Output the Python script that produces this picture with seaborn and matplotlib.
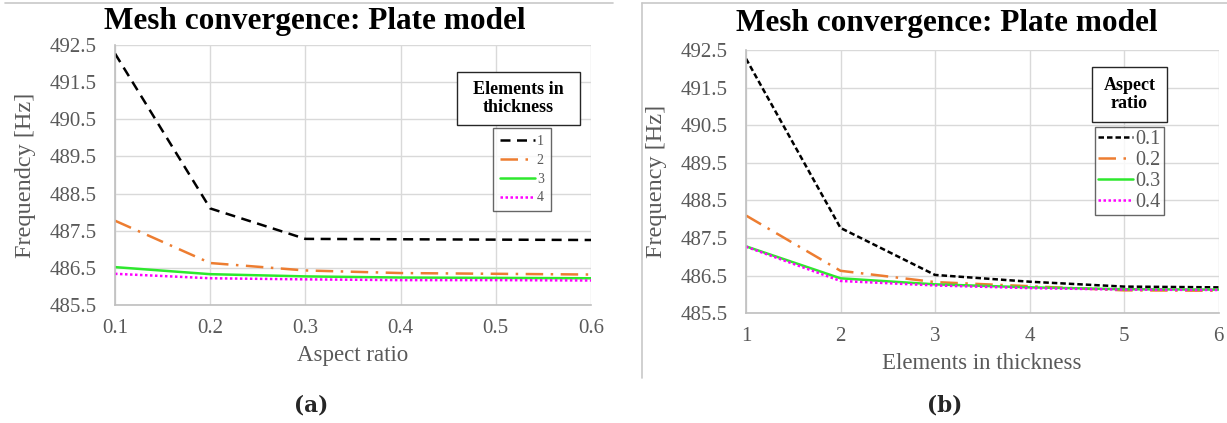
import matplotlib
matplotlib.use("Agg")
import matplotlib.pyplot as plt
from matplotlib.lines import Line2D
from matplotlib.patches import Rectangle
import seaborn as sns

# ---- data ----
aspect_ratios = [0.1, 0.2, 0.3, 0.4, 0.5, 0.6]
elements = [1, 2, 3, 4, 5, 6]

# panel (a): frequency vs aspect ratio, one series per number of elements in thickness
elem_1 = [492.27, 488.10, 487.28, 487.27, 487.26, 487.25]
elem_2 = [487.77, 486.63, 486.43, 486.36, 486.34, 486.32]
elem_3 = [486.52, 486.33, 486.27, 486.24, 486.23, 486.22]
elem_4 = [486.34, 486.22, 486.19, 486.17, 486.17, 486.16]
elem_labels = ["1", "2", "3", "4"]

# panel (b): frequency vs elements in thickness, one series per aspect ratio
ar_01 = [492.27, 487.77, 486.52, 486.34, 486.21, 486.19]
ar_02 = [488.10, 486.63, 486.33, 486.22, 486.11, 486.10]
ar_03 = [487.28, 486.43, 486.27, 486.19, 486.14, 486.13]
ar_04 = [487.27, 486.36, 486.24, 486.17, 486.13, 486.12]
ar_labels = ["0.1", "0.2", "0.3", "0.4"]

y_ticks = [485.5, 486.5, 487.5, 488.5, 489.5, 490.5, 491.5, 492.5]
title = "Mesh convergence: Plate model"

# ---- style ----
sns.set_theme(style="white")
plt.rcParams["font.family"] = ["Liberation Serif", "DejaVu Serif"]
GRAY = "#595959"
colors = ["black", "#ED7D31", "#2EE82E", "#FF00FF"]
styles_a = [(0, (4, 2.6)), (0, (7, 3, 1, 3)), "-", (0, (1, 1))]
styles_b = [(0, (2.2, 1.2)), (0, (7, 3, 1, 3)), "-", (0, (1, 1))]

W, H = 1227, 423
fig = plt.figure(figsize=(W / 100, H / 100), dpi=100)
fig.patch.set_facecolor("white")


def fx(px):
    return px / W


def fy(py):
    return 1 - py / H


ax_a = fig.add_axes([fx(115), fy(305), fx(591) - fx(115), fy(45) - fy(305)])
ax_b = fig.add_axes([fx(746), fy(313.3), fx(1218.5) - fx(746), fy(50) - fy(313.3)])


def style_axes(ax, xticks, xlim, ylabel, xlabel, xfmt, xlabelpad):
    ax.set_xlim(*xlim)
    ax.set_ylim(485.5, 492.5)
    ax.set_xticks(xticks)
    ax.set_xticklabels([xfmt(v) for v in xticks])
    ax.set_yticks(y_ticks)
    ax.set_yticklabels([f"{v:.1f}" for v in y_ticks])
    ax.grid(True, color="#d9d9d9", linewidth=1.0)
    ax.set_axisbelow(True)
    for s in ["top", "right"]:
        ax.spines[s].set_visible(False)
    for s in ["left", "bottom"]:
        ax.spines[s].set_color("#bfbfbf")
        ax.spines[s].set_linewidth(1.2)
    ax.tick_params(axis="both", length=0, labelsize=15, labelcolor=GRAY)
    ax.tick_params(axis="x", pad=10)
    ax.tick_params(axis="y", pad=13)
    ax.set_ylabel(ylabel, fontsize=17.5, color=GRAY, labelpad=10)
    ax.set_xlabel(xlabel, fontsize=16.5, color=GRAY, labelpad=xlabelpad)


# panel (a)
for vals, lab, c, ls in zip([elem_1, elem_2, elem_3, elem_4], elem_labels, colors, styles_a):
    sns.lineplot(x=aspect_ratios, y=vals, ax=ax_a, color=c, linestyle=ls,
                 linewidth=1.8, label=lab)
style_axes(ax_a, aspect_ratios, (0.1, 0.6), "Frequendcy [Hz]", "Aspect ratio",
           lambda v: f"{v:.1f}", 5)

# panel (b)
for vals, lab, c, ls in zip([ar_01, ar_02, ar_03, ar_04], ar_labels, colors, styles_b):
    sns.lineplot(x=elements, y=vals, ax=ax_b, color=c, linestyle=ls,
                 linewidth=1.8, label=lab)
style_axes(ax_b, elements, (1, 6), "Frequency [Hz]", "Elements in thickness",
           lambda v: f"{v:d}", 5)

# legends
h, l = ax_a.get_legend_handles_labels()
leg_a = ax_a.legend(h, l, loc="upper left", bbox_to_anchor=(fx(493), fy(128)),
                    bbox_transform=fig.transFigure, fontsize=10, frameon=True,
                    fancybox=False, edgecolor="#404040", handlelength=2.5,
                    handletextpad=0.15, labelspacing=0.42, borderpad=0.5,
                    borderaxespad=0)
leg_a.get_frame().set_linewidth(1.0)
for t in leg_a.get_texts():
    t.set_color(GRAY)

h, l = ax_b.get_legend_handles_labels()
leg_b = ax_b.legend(h, l, loc="upper left", bbox_to_anchor=(fx(1095), fy(127)),
                    bbox_transform=fig.transFigure, fontsize=14.5, frameon=True,
                    fancybox=False, edgecolor="#404040", handlelength=1.75,
                    handletextpad=0.1, labelspacing=0.1, borderpad=0.15,
                    borderaxespad=0)
leg_b.get_frame().set_linewidth(1.0)
for t in leg_b.get_texts():
    t.set_color(GRAY)

# legend title boxes
for (x0, y0, x1, y1) in [(457, 72, 580, 125), (1092, 67, 1167, 122)]:
    fig.add_artist(Rectangle((fx(x0), fy(y1)), fx(x1) - fx(x0), fy(y0) - fy(y1),
                             transform=fig.transFigure, facecolor="white",
                             edgecolor="#262626", linewidth=1.0, zorder=5))
fig.text(fx(518.5), fy(98.5), "Elements in\nthickness", ha="center", va="center",
         fontsize=13, fontweight="bold", color="black", linespacing=1.15, zorder=6)
fig.text(fx(1129.5), fy(94.5), "Aspect\nratio", ha="center", va="center",
         fontsize=13, fontweight="bold", color="black", linespacing=1.15, zorder=6)

# titles
fig.text(fx(315), fy(22), title, ha="center", va="center", fontsize=22.5,
         fontweight="bold", color="black")
fig.text(fx(947), fy(23), title, ha="center", va="center", fontsize=22.5,
         fontweight="bold", color="black")

# sub captions
fig.text(fx(311), fy(405), "(a)", ha="center", va="center", fontsize=15.5,
         fontweight="bold", family=["DejaVu Serif"])
fig.text(fx(945), fy(405), "(b)", ha="center", va="center", fontsize=15.5,
         fontweight="bold", family=["DejaVu Serif"])

# panel frame lines
frame_c = "#c8c8c8"
fig.add_artist(Line2D([fx(5), fx(613)], [fy(3), fy(3)], color=frame_c, linewidth=1.2))
fig.add_artist(Line2D([fx(642), fx(1227)], [fy(3), fy(3)], color=frame_c, linewidth=1.2))
fig.add_artist(Line2D([fx(642), fx(642)], [fy(3), fy(378)], color=frame_c, linewidth=1.2))

fig.savefig("out.png", dpi=100, facecolor="white")
